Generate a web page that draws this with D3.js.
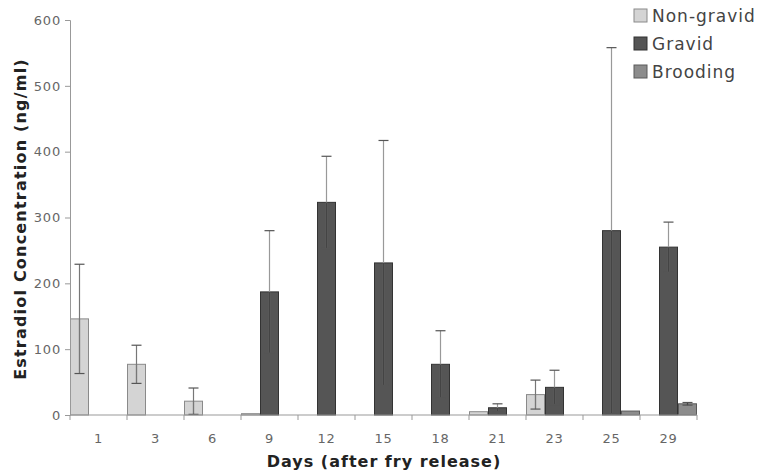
<!DOCTYPE html>
<html>
<head>
<meta charset="utf-8">
<script src="https://cdn.jsdelivr.net/npm/d3@7"></script>
<style>
  body { margin: 0; background: #fff; }
  text { font-family: "DejaVu Sans", Verdana, sans-serif; }
</style>
</head>
<body>
<div id="chart"></div>
<script>
// days after fry release
const days = ['1', '3', '6', '9', '12', '15', '18', '21', '23', '25', '29'];
const seriesNames = ['Non-gravid', 'Gravid', 'Brooding'];

// means (ng/ml), null = no sample
const nonGravid = [146, 77, 21, 2, null, null, null, 5, 31, null, null];
const gravid = [null, null, null, 187, 323, 231, 77, 11, 42, 280, 255];
const brooding = [null, null, null, null, null, null, null, null, null, 6, 17];

// standard deviations
const nonGravidErr = [83, 29, 20, 0, null, null, null, 0, 22, null, null];
const gravidErr = [null, null, null, 93, 70, 186, 51, 6, 26, 278, 38];
const broodingErr = [null, null, null, null, null, null, null, null, null, 0, 2];

const yTicks = [0, 100, 200, 300, 400, 500, 600];

const width = 774, height = 471;
const margin = { top: 20, right: 77, bottom: 56, left: 70 };

const colors = ['#d4d4d4', '#555555', '#8c8c8c'];
const strokes = ['#8a8a8a', '#333333', '#5a5a5a'];

const svg = d3.select('#chart').append('svg')
    .attr('width', width)
    .attr('height', height);

const x = d3.scaleBand()
    .domain(days)
    .range([margin.left, width - margin.right])
    .padding(0);

const xInner = d3.scaleBand()
    .domain(seriesNames)
    .range([0, x.bandwidth()])
    .padding(0);

const y = d3.scaleLinear()
    .domain([0, 600])
    .range([height - margin.bottom, margin.top]);

const values = [nonGravid, gravid, brooding];
const errs = [nonGravidErr, gravidErr, broodingErr];

const rows = [];
seriesNames.forEach((name, si) => {
    days.forEach((d, di) => {
        if (values[si][di] != null) {
            rows.push({ day: d, series: name, si, value: values[si][di], err: errs[si][di] || 0 });
        }
    });
});

// bars
svg.append('g')
    .selectAll('rect')
    .data(rows)
    .enter().append('rect')
    .attr('x', d => x(d.day) + xInner(d.series) + 0.5)
    .attr('y', d => y(d.value))
    .attr('width', xInner.bandwidth() - 1)
    .attr('height', d => y(0) - y(d.value))
    .attr('fill', d => colors[d.si])
    .attr('stroke', d => strokes[d.si])
    .attr('stroke-width', 1);

// error bars
const errG = svg.append('g');
rows.filter(d => d.err > 0).forEach(d => {
    const cx = x(d.day) + xInner(d.series) + xInner.bandwidth() / 2;
    const lo = Math.max(0, d.value - d.err);
    const hi = d.value + d.err;
    const col = d.si === 0 ? '#777' : '#444';
    errG.append('line')
        .attr('x1', cx).attr('x2', cx)
        .attr('y1', y(lo)).attr('y2', y(hi))
        .attr('stroke', d.si === 1 ? '#999' : col).attr('stroke-width', 1.2);
    errG.append('line')
        .attr('x1', cx).attr('x2', cx)
        .attr('y1', y(lo)).attr('y2', y(d.value))
        .attr('stroke', col).attr('stroke-width', 1.2);
    [lo, hi].forEach(v => {
        errG.append('line')
            .attr('x1', cx - 5).attr('x2', cx + 5)
            .attr('y1', y(v)).attr('y2', y(v))
            .attr('stroke', '#555').attr('stroke-width', 1.2);
    });
});

// y axis
const yAxis = svg.append('g')
    .attr('transform', `translate(${margin.left},0)`)
    .call(d3.axisLeft(y).tickValues(yTicks).tickSize(5).tickPadding(4));
yAxis.select('.domain').attr('stroke', '#999');
yAxis.selectAll('.tick line').attr('stroke', '#999');
yAxis.selectAll('.tick text')
    .attr('fill', '#666')
    .style('font-size', '13px')
    .style('letter-spacing', '0.8px');

// x axis: baseline plus ticks between groups
const base = y(0);
svg.append('line')
    .attr('x1', margin.left).attr('x2', width - margin.right)
    .attr('y1', base).attr('y2', base)
    .attr('stroke', '#999');
const bounds = days.map(d => x(d)).concat([x(days[days.length - 1]) + x.bandwidth()]);
svg.append('g').selectAll('line')
    .data(bounds)
    .enter().append('line')
    .attr('x1', d => d).attr('x2', d => d)
    .attr('y1', base).attr('y2', base + 5)
    .attr('stroke', '#999');
svg.append('g').selectAll('text')
    .data(days)
    .enter().append('text')
    .attr('x', d => x(d) + x.bandwidth() / 2)
    .attr('y', base + 28)
    .attr('text-anchor', 'middle')
    .attr('fill', '#666')
    .style('font-size', '13px')
    .style('letter-spacing', '0.8px')
    .text(d => d);

// axis titles
svg.append('text')
    .attr('x', 384)
    .attr('y', 467)
    .attr('text-anchor', 'middle')
    .attr('fill', '#222')
    .style('font-size', '16px')
    .style('font-weight', 'bold')
    .style('letter-spacing', '1px')
    .text('Days (after fry release)');

svg.append('text')
    .attr('transform', `translate(26,${219}) rotate(-90)`)
    .attr('text-anchor', 'middle')
    .attr('fill', '#222')
    .style('font-size', '16px')
    .style('font-weight', 'bold')
    .style('letter-spacing', '1.2px')
    .text('Estradiol Concentration (ng/ml)');

// legend
const legend = svg.append('g').attr('transform', 'translate(634,9)');
seriesNames.forEach((name, i) => {
    const g = legend.append('g').attr('transform', `translate(0,${i * 28})`);
    g.append('rect')
        .attr('width', 13).attr('height', 13)
        .attr('fill', colors[i])
        .attr('stroke', strokes[i]);
    g.append('text')
        .attr('x', 18).attr('y', 13)
        .attr('fill', '#444')
        .style('font-size', '17px')
        .style('letter-spacing', '1px')
        .text(name);
});
</script>
</body>
</html>
